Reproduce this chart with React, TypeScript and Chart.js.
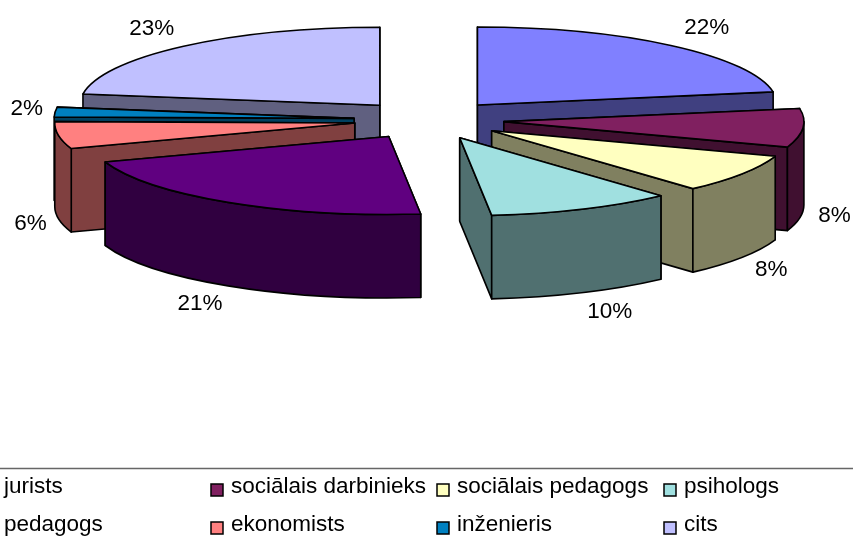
import React, { useEffect, useRef } from "react";
import { Chart, registerables } from "chart.js";

Chart.register(...registerables);

const categories = ["jurists", "sociālais darbinieks", "sociālais pedagogs", "psihologs", "pedagogs", "ekonomists", "inženieris", "cits"];
const shares = [22.3, 8, 8, 10, 21.4, 5.6, 2, 22.7];
const topColors = ["#8080FF", "#802060", "#FFFFC0", "#A0E0E0", "#600080", "#FF8080", "#0080C0", "#C0C0FF"];
const sideColors = ["#404080", "#401030", "#808060", "#507070", "#300040", "#804040", "#004060", "#606080"];

const FONT = '"Liberation Sans", Arial, sans-serif';
const VIEW = { cx: 429, cy: 120, rx: 300, ry: 78, depth: 83.5 };
const EXPLODE = 60;
const LEGEND = { ruleY: 468, colX: [4, 231, 457, 684], rowY: [487, 525], fontSize: 22.5 };

function edge(ctx: CanvasRenderingContext2D, ax: number, ay: number, phi: number, depth: number, fill: string) {
  const px = ax + VIEW.rx * Math.cos(phi);
  const py = ay + VIEW.ry * Math.sin(phi);
  ctx.beginPath();
  ctx.moveTo(ax, ay);
  ctx.lineTo(px, py);
  ctx.lineTo(px, py + depth);
  ctx.lineTo(ax, ay + depth);
  ctx.closePath();
  ctx.fillStyle = fill;
  ctx.fill();
  ctx.stroke();
}

const extrudedPie = {
  id: "extrudedPie",
  beforeDatasetsDraw(chart: any) {
    const ctx: CanvasRenderingContext2D = chart.ctx;
    const arcs: any[] = chart.getDatasetMeta(0).data;
    const order = arcs
      .map((arc, i) => ({ arc, i, mid: (arc.startAngle + arc.endAngle) / 2 }))
      .sort((a, b) => Math.sin(a.mid) - Math.sin(b.mid));
    ctx.save();
    ctx.strokeStyle = "#000";
    ctx.lineWidth = 1.6;
    ctx.lineJoin = "round";
    for (const { arc, i, mid } of order) {
      const dist = (arc.options.offset / arc.outerRadius) || 0;
      const ax = VIEW.cx + VIEW.rx * dist * Math.cos(mid);
      const ay = VIEW.cy + VIEW.ry * dist * Math.sin(mid);
      const side = sideColors[i];
      // radial walls: the one facing away goes first
      const facing = (phi: number) => {
        const dx = Math.cos(phi);
        if (Math.abs(dx) < 1e-6) return 0;
        return Math.sin(mid) - (Math.sin(phi) / dx) * Math.cos(mid) < 0 ? 1 : 0;
      };
      const walls = [arc.startAngle, arc.endAngle].sort((p, q) => facing(p) - facing(q));
      for (const phi of walls) edge(ctx, ax, ay, phi, VIEW.depth, side);
      // outer wall, lower half of the ellipse only
      const a = Math.max(arc.startAngle, 0);
      const b = Math.min(arc.endAngle, Math.PI);
      if (a < b) {
        ctx.beginPath();
        ctx.ellipse(ax, ay, VIEW.rx, VIEW.ry, 0, a, b);
        ctx.ellipse(ax, ay + VIEW.depth, VIEW.rx, VIEW.ry, 0, b, a, true);
        ctx.closePath();
        ctx.fillStyle = side;
        ctx.fill();
        ctx.stroke();
      }
      // top face
      ctx.beginPath();
      ctx.moveTo(ax, ay);
      ctx.ellipse(ax, ay, VIEW.rx, VIEW.ry, 0, arc.startAngle, arc.endAngle);
      ctx.closePath();
      ctx.fillStyle = arc.options.backgroundColor;
      ctx.fill();
      ctx.stroke();
    }
    ctx.restore();
    return false;
  },
  afterDraw(chart: any) {
    const ctx: CanvasRenderingContext2D = chart.ctx;
    const arcs: any[] = chart.getDatasetMeta(0).data;
    const values: number[] = chart.data.datasets[0].data;
    const names: string[] = chart.data.labels;
    ctx.save();
    ctx.textAlign = "center";
    ctx.textBaseline = "middle";
    ctx.fillStyle = "#000";
    ctx.font = `${LEGEND.fontSize}px ${FONT}`;
    arcs.forEach((arc, i) => {
      const mid = (arc.startAngle + arc.endAngle) / 2;
      const dist = arc.options.offset / arc.outerRadius;
      const c = Math.cos(mid);
      const s = Math.sin(mid);
      const pad = c > 0 ? 32 - 5 * s : -(28 + 5 * Math.max(0, -s));
      const x = VIEW.cx + VIEW.rx * (dist + 1) * c + pad;
      const y = VIEW.cy + VIEW.ry * (dist + 1) * s + (s > 0 ? 86 + 18 * s : -2 + 20 * s);
      ctx.fillText(`${Math.round(values[i])}%`, x, y);
    });
    ctx.strokeStyle = "#666";
    ctx.lineWidth = 1.3;
    ctx.beginPath();
    ctx.moveTo(0, LEGEND.ruleY + 0.5);
    ctx.lineTo(chart.width, LEGEND.ruleY + 0.5);
    ctx.stroke();
    ctx.textAlign = "left";
    ctx.strokeStyle = "#000";
    ctx.lineWidth = 1.5;
    names.forEach((name, i) => {
      const x = LEGEND.colX[i % 4];
      const y = LEGEND.rowY[Math.floor(i / 4)];
      ctx.fillStyle = topColors[i];
      ctx.fillRect(x - 20, y - 3, 12, 12);
      ctx.strokeRect(x - 20, y - 3, 12, 12);
      ctx.fillStyle = "#000";
      ctx.fillText(name, x, y);
    });
    ctx.restore();
  },
};

export default function App() {
  const ref = useRef<HTMLCanvasElement>(null);
  useEffect(() => {
    const chart = new Chart(ref.current!, {
      type: "pie",
      data: {
        labels: categories,
        datasets: [{ data: shares, backgroundColor: topColors, offset: EXPLODE, borderWidth: 0 }],
      },
      options: {
        animation: false,
        responsive: false,
        events: [],
        plugins: { legend: { display: false }, tooltip: { enabled: false } },
      },
      plugins: [extrudedPie],
    } as any);
    return () => chart.destroy();
  }, []);
  return (
    <div style={{ position: "fixed", left: 0, top: 0, width: 853, height: 539, background: "#fff" }}>
      <canvas ref={ref} width={853} height={539} style={{ display: "block" }} />
    </div>
  );
}
